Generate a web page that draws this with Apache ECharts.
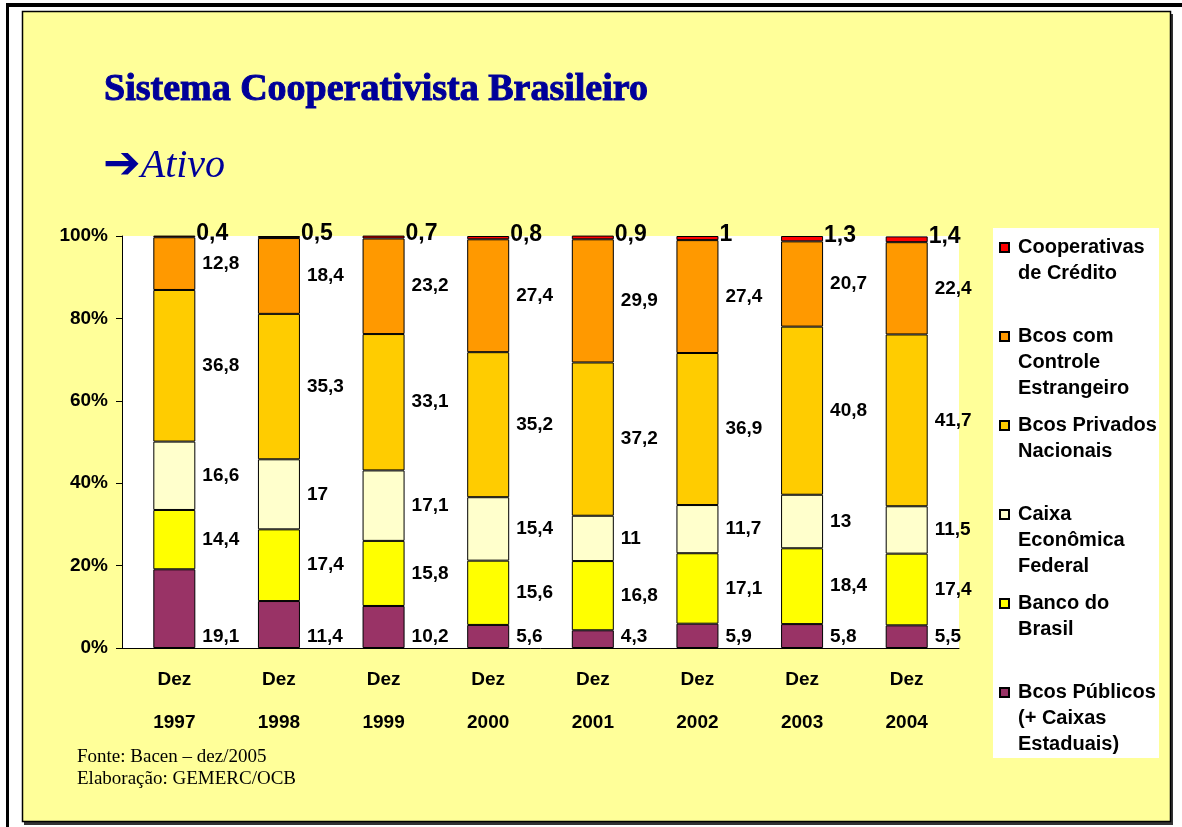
<!DOCTYPE html>
<html>
<head>
<meta charset="utf-8">
<title>Sistema Cooperativista Brasileiro - Ativo</title>
<script src="https://cdn.jsdelivr.net/npm/echarts@6/dist/echarts.min.js"></script>
<style>
html, body { margin: 0; padding: 0; background: #fff; }
#ativo { width: 1182px; height: 827px; }
</style>
</head>
<body>
<div id="ativo"></div>
<script>
// categorias (dois niveis: mes / ano)
var anos = ['Dez\n1997', 'Dez\n1998', 'Dez\n1999', 'Dez\n2000', 'Dez\n2001', 'Dez\n2002', 'Dez\n2003', 'Dez\n2004'];

// nomes das series, de baixo para cima na pilha
var nomes = [
  'Bcos Públicos\n(+ Caixas\nEstaduais)',
  'Banco do\nBrasil',
  'Caixa\nEconômica\nFederal',
  'Bcos Privados\nNacionais',
  'Bcos com\nControle\nEstrangeiro',
  'Cooperativas\nde Crédito'
];

// participacao no ativo (%)
var bcosPublicos = [19.1, 11.4, 10.2, 5.6, 4.3, 5.9, 5.8, 5.5];
var bancoBrasil = [14.4, 17.4, 15.8, 15.6, 16.8, 17.1, 18.4, 17.4];
var caixaFederal = [16.6, 17, 17.1, 15.4, 11, 11.7, 13, 11.5];
var privadosNacionais = [36.8, 35.3, 33.1, 35.2, 37.2, 36.9, 40.8, 41.7];
var controleEstrangeiro = [12.8, 18.4, 23.2, 27.4, 29.9, 27.4, 20.7, 22.4];
var cooperativas = [0.4, 0.5, 0.7, 0.8, 0.9, 1, 1.3, 1.4];

// eixo y: 0% .. 100%
var yMax = 100;
var yStep = 20;

var cores = ['#993366', '#FFFF00', '#FFFFCC', '#FFCC00', '#FF9900', '#FF0000'];
var valores = [bcosPublicos, bancoBrasil, caixaFederal, privadosNacionais, controleEstrangeiro, cooperativas];

var fonte = 'Liberation Sans';
var serif = 'Liberation Serif';

function virgula(p) {
  return String(p.value).replace('.', ',');
}

var series = valores.map(function (v, i) {
  var label = {
    show: true,
    position: 'right',
    distance: 7,
    color: '#000',
    fontFamily: fonte,
    fontWeight: 'bold',
    fontSize: 19,
    formatter: virgula
  };
  if (i === 0) {
    // rotulo da base fica mais embaixo
    label.position = ['100%', '100%'];
    label.align = 'left';
    label.verticalAlign = 'bottom';
    label.offset = [7, -2];
  }
  if (i === 5) {
    label.fontSize = 23;
    label.distance = 1;
    label.offset = [0, -3];
  }
  return {
    name: nomes[i],
    type: 'bar',
    stack: 'total',
    barWidth: 42,
    data: v,
    itemStyle: {
      color: cores[i],
      borderColor: '#000',
      borderWidth: 1
    },
    label: label,
    emphasis: { disabled: true }
  };
});

var chart = echarts.init(document.getElementById('ativo'));
chart.setOption({
  backgroundColor: '#fff',
  animation: false,
  title: [
    {
      text: 'Sistema Cooperativista Brasileiro',
      left: 104,
      top: 70,
      padding: 0,
      textStyle: {
        color: '#000099',
        fontFamily: serif,
        fontWeight: 'bold',
        fontSize: 38,
        lineHeight: 40,
        textBorderColor: '#000099',
        textBorderWidth: 1,
        textShadowColor: '#8c8c8c',
        textShadowOffsetX: 2,
        textShadowOffsetY: 2,
        textShadowBlur: 0
      }
    },
    {
      text: '{a|➔}{b|Ativo}',
      left: 103,
      top: 144,
      padding: 0,
      textStyle: {
        rich: {
          a: { color: '#000099', fontFamily: 'DejaVu Sans', fontWeight: 'bold', fontSize: 45, lineHeight: 44 },
          b: { color: '#000099', fontFamily: serif, fontStyle: 'italic', fontWeight: 'normal', fontSize: 40, lineHeight: 44 }
        }
      }
    }
  ],
  graphic: [
    // moldura externa
    { type: 'rect', z: -20, silent: true, shape: { x: 6, y: 3, width: 1176, height: 4 }, style: { fill: '#000' } },
    { type: 'rect', z: -20, silent: true, shape: { x: 6, y: 3, width: 3, height: 824 }, style: { fill: '#000' } },
    // painel amarelo
    { type: 'rect', z: -19, silent: true, shape: { x: 24, y: 14, width: 1149, height: 811 }, style: { fill: '#333' } },
    { type: 'rect', z: -18, silent: true, shape: { x: 22.5, y: 11.5, width: 1148, height: 810 }, style: { fill: '#FFFF99', stroke: '#000', lineWidth: 1.5 } },
    // caixa da legenda
    { type: 'rect', z: -17, silent: true, shape: { x: 993, y: 228, width: 166, height: 530 }, style: { fill: '#fff' } },
    {
      type: 'text', silent: true, x: 77, y: 757,
      style: { text: 'Fonte: Bacen – dez/2005', fill: '#000', fontFamily: serif, fontSize: 19, verticalAlign: 'middle' }
    },
    {
      type: 'text', silent: true, x: 77, y: 779,
      style: { text: 'Elaboração: GEMERC/OCB', fill: '#000', fontFamily: serif, fontSize: 19, verticalAlign: 'middle' }
    }
  ],
  grid: {
    left: 122,
    right: 223,
    top: 236,
    bottom: 179,
    show: true,
    backgroundColor: '#fff',
    borderWidth: 0
  },
  legend: {
    orient: 'vertical',
    left: 999,
    top: 234,
    padding: 0,
    itemGap: 11,
    itemWidth: 13,
    itemHeight: 76,
    icon: 'path://M0,0M13,76M0,8h9v9h-9z',
    selectedMode: false,
    data: nomes.slice().reverse(),
    formatter: function (name) {
      var n = name.split('\n').length;
      while (n < 3) { name += '\n '; n++; }
      return name;
    },
    textStyle: {
      color: '#000',
      fontFamily: fonte,
      fontWeight: 'bold',
      fontSize: 20,
      lineHeight: 26
    }
  },
  xAxis: {
    type: 'category',
    data: anos,
    axisLine: { lineStyle: { color: '#000', width: 1 } },
    axisTick: { length: 90, lineStyle: { color: '#000', width: 1 } },
    axisLabel: {
      color: '#000',
      fontFamily: fonte,
      fontWeight: 'bold',
      fontSize: 19,
      lineHeight: 43,
      margin: 10
    }
  },
  yAxis: {
    type: 'value',
    min: 0,
    max: yMax,
    interval: yStep,
    axisLine: { show: true, lineStyle: { color: '#000', width: 1 } },
    axisTick: { show: true, length: 6, lineStyle: { color: '#000' } },
    splitLine: { show: false },
    axisLabel: {
      color: '#000',
      fontFamily: fonte,
      fontWeight: 'bold',
      fontSize: 19,
      margin: 14,
      formatter: '{value}%'
    }
  },
  series: series
});
</script>
</body>
</html>
